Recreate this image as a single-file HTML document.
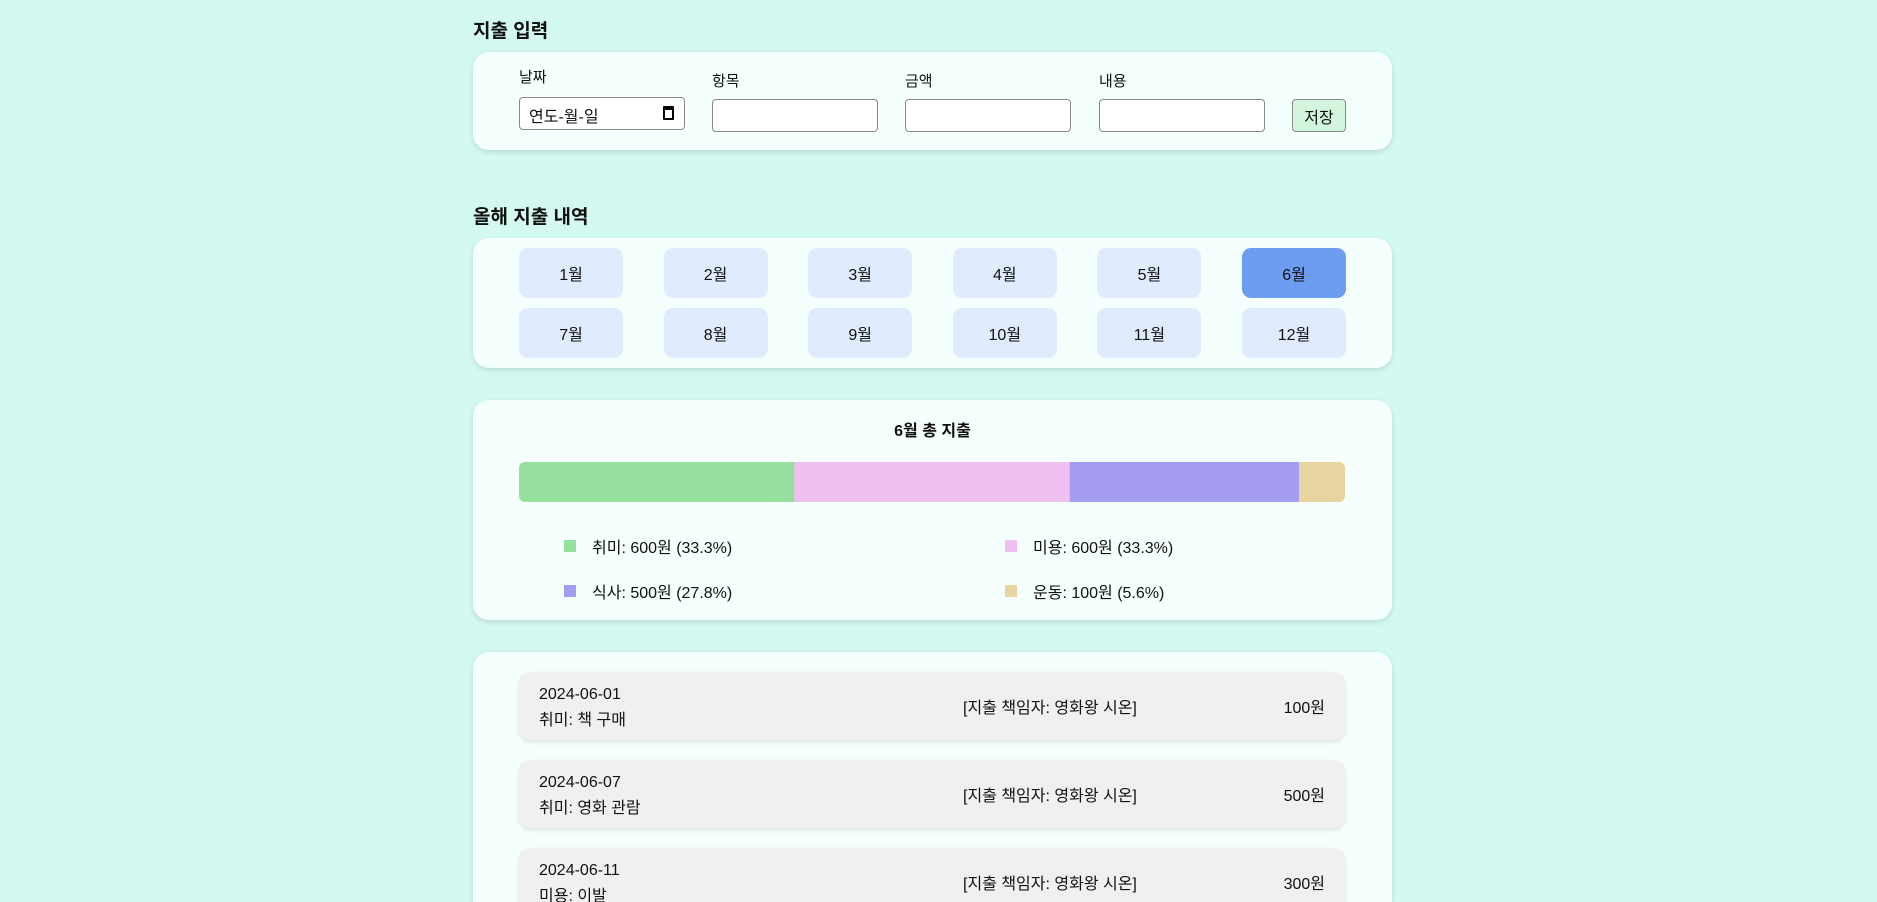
<!DOCTYPE html>
<html style="width:1877px;height:902px;overflow:hidden"><head><meta charset="utf-8"><style>
*{box-sizing:border-box;margin:0;padding:0}
body{width:1877px;height:902px;overflow:hidden;background:#d3f9f1;font-family:"Liberation Sans","Noto Sans CJK KR",sans-serif;color:#111;position:relative}
.abs{position:absolute}
h2{position:absolute;font-size:19px;font-weight:bold;left:473px}
.card{position:absolute;left:473px;width:919px;background:#f5fffe;border-radius:16px;box-shadow:0 2px 6px rgba(0,0,0,0.12)}
.lbl{position:absolute;font-size:15px;top:68px}
.inp{position:absolute;top:99px;height:33px;width:166px;border:1px solid #888;border-radius:4px;background:#fff}
.mb{position:absolute;width:104px;height:50px;border-radius:9px;background:#e0ebfd;font-size:16px;display:flex;align-items:center;justify-content:center}
.leg{position:absolute;font-size:16px;display:flex;align-items:center}
.leg i{display:inline-block;width:12px;height:12px;margin-right:16px}
.item{position:absolute;left:519px;width:826px;height:68px;background:#f0f0f0;border-radius:12px;box-shadow:0 2px 5px rgba(0,0,0,0.12);font-size:16px}
.item .d{position:absolute;left:20px;top:10px;line-height:26px}
.item .r{position:absolute;left:444px;top:22px}
.item .a{position:absolute;right:20px;top:22px}
</style></head><body>
<h2 style="top:16px">지출 입력</h2>
<div class="card" style="top:52px;height:98px"></div>
<div class="lbl" style="left:519px;top:66px">날짜</div>
<div class="lbl" style="left:712px;top:70px">항목</div>
<div class="lbl" style="left:905px;top:70px">금액</div>
<div class="lbl" style="left:1099px;top:70px">내용</div>
<div class="inp" style="left:519px;top:97px;font-size:16px;padding:5px 9px">연도-월-일<span style="position:absolute;right:10px;top:8px;width:11px;height:14px;border:2px solid #000;border-top-width:4px;border-radius:1px"></span></div>
<div class="inp" style="left:712px"></div>
<div class="inp" style="left:905px"></div>
<div class="inp" style="left:1099px"></div>
<div class="abs" style="left:1292px;top:99px;width:54px;height:33px;background:#d3f5dd;border:1px solid #888;border-radius:4px;font-size:16px;display:flex;align-items:center;justify-content:center">저장</div>

<h2 style="top:202px">올해 지출 내역</h2>
<div class="card" style="top:238px;height:130px"></div>
<div id="months"></div>

<div class="card" style="top:400px;height:220px"></div>
<div class="abs" style="left:473px;width:919px;top:417px;text-align:center;font-size:16px;font-weight:bold">6월 총 지출</div>
<svg class="abs" style="left:519px;top:462px" width="826" height="40" id="bar"></svg>
<div id="legend"></div>

<div class="card" style="top:652px;height:250px;border-bottom-left-radius:0;border-bottom-right-radius:0"></div>
<div id="items"></div>

<script>
const monthLabels=['1월','2월','3월','4월','5월','6월','7월','8월','9월','10월','11월','12월'];
const categories=['취미','미용','식사','운동'];
const amounts=[600,600,500,100];
const colors=['#96e09f','#efc0ef','#a39cf0','#e8d49f'];
const itemDates=['2024-06-01','2024-06-07','2024-06-11'];
const itemDescs=['취미: 책 구매','취미: 영화 관람','미용: 이발'];
const itemAmounts=[100,500,300];

const mc=document.getElementById('months');
monthLabels.forEach((m,i)=>{
  const d=document.createElement('div');
  d.className='mb';
  
  
  d.style.left=(519+(i%6)*144.6)+'px';
  d.style.top=(i<6?248:308)+'px';
  if(i===5)d.style.background='#6d9df0';
  d.textContent=m;mc.appendChild(d);
});
const total=amounts.reduce((a,b)=>a+b,0);
const W=826,svg=document.getElementById('bar'),ns='http://www.w3.org/2000/svg';
const cp=document.createElementNS(ns,'clipPath');cp.setAttribute('id','cl');
const cr=document.createElementNS(ns,'rect');cr.setAttribute('width',W);cr.setAttribute('height',40);cr.setAttribute('rx',6);
cp.appendChild(cr);svg.appendChild(cp);
let x=0;
amounts.forEach((v,i)=>{
  const w=v/total*W;
  const r=document.createElementNS(ns,'rect');
  
  
  r.setAttribute('x',x);r.setAttribute('y',0);r.setAttribute('width',w);r.setAttribute('height',40);
  r.setAttribute('fill',colors[i]);r.setAttribute('clip-path','url(#cl)');
  svg.appendChild(r);x+=w;
});
const lg=document.getElementById('legend');
categories.forEach((c,i)=>{
  const d=document.createElement('div');
  d.className='leg';
  
  
  d.style.left=(i%2?1005:564)+'px';
  d.style.top=(i<2?534:579)+'px';
  d.innerHTML='<i style="background:'+colors[i]+'"></i>'+c+': '+amounts[i]+'원 ('+(amounts[i]/total*100).toFixed(1)+'%)';
  lg.appendChild(d);
});
const it=document.getElementById('items');
itemDates.forEach((dt,i)=>{
  const d=document.createElement('div');
  d.className='item';
  
  
  d.style.top=(672+i*88)+'px';
  d.innerHTML='<div class="d">'+dt+'<br>'+itemDescs[i]+'</div><div class="r">[지출 책임자: 영화왕 시온]</div><div class="a">'+itemAmounts[i]+'원</div>';
  it.appendChild(d);
});
</script>
</body></html>
